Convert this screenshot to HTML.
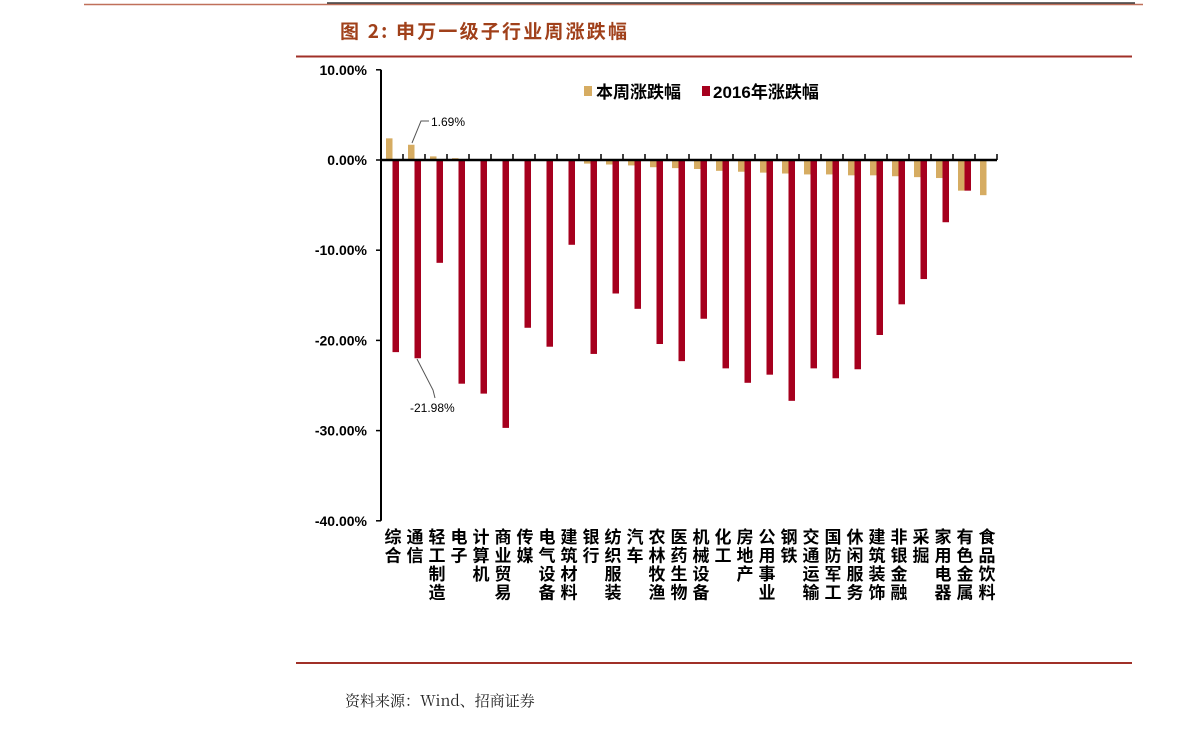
<!DOCTYPE html>
<html><head><meta charset="utf-8"><style>
body{margin:0;background:#fff;width:1191px;height:731px;overflow:hidden}
svg{display:block}
</style></head><body>
<svg width="1191" height="731" xmlns="http://www.w3.org/2000/svg" font-family="Liberation Sans, Noto Sans CJK SC, sans-serif">
<line x1="84" y1="4.5" x2="1143" y2="4.5" stroke="#c0705a" stroke-width="1.5"/>
<line x1="327" y1="3" x2="1135" y2="3" stroke="#111" stroke-width="1.2"/>
<text x="340" y="38" font-size="19" font-weight="bold" fill="#a0401a" letter-spacing="2.2" font-family="Noto Sans CJK SC, sans-serif">图 2:  申万一级子行业周涨跌幅</text>
<line x1="296" y1="56.5" x2="1132" y2="56.5" stroke="#a03028" stroke-width="2"/>
<line x1="296" y1="663" x2="1132" y2="663" stroke="#a03028" stroke-width="2"/>
<text x="345" y="706" font-size="15" fill="#222" font-family="Noto Serif CJK SC, serif">资料来源：Wind、招商证券</text>
<g id="chart"></g>
</svg>
<script>
const g=document.getElementById('chart');const ns='http://www.w3.org/2000/svg';
function el(t,a,txt){const e=document.createElementNS(ns,t);for(const k in a)e.setAttribute(k,a[k]);if(txt!==undefined)e.textContent=txt;g.appendChild(e);return e;}
const y0=160,k=9.02,x0=381,w=22;
const names=["综合","通信","轻工制造","电子","计算机","商业贸易","传媒","电气设备","建筑材料","银行","纺织服装","汽车","农林牧渔","医药生物","机械设备","化工","房地产","公用事业","钢铁","交通运输","国防军工","休闲服务","建筑装饰","非银金融","采掘","家用电器","有色金属","食品饮料"];
const gold=[2.4,1.69,0.4,0.2,0.05,0,0,0,-0.1,-0.4,-0.5,-0.6,-0.8,-0.9,-1.0,-1.2,-1.3,-1.4,-1.5,-1.6,-1.6,-1.7,-1.7,-1.8,-1.9,-2.0,-3.4,-3.9];
const red=[-21.3,-21.98,-11.4,-24.8,-25.9,-29.7,-18.6,-20.7,-9.4,-21.5,-14.8,-16.5,-20.4,-22.3,-17.6,-23.1,-24.7,-23.8,-26.7,-23.1,-24.2,-23.2,-19.4,-16.0,-13.2,-6.9,-3.4,0];
for(let v=10;v>=-40;v-=10){const y=y0-v*k;el('line',{x1:376,y1:y,x2:381,y2:y,stroke:'#000','stroke-width':1.5});el('text',{x:367,y:y+5,'font-size':14,'font-weight':'bold','text-anchor':'end'},v.toFixed(2)+'%');}
el('line',{x1:381,y1:y0-10*k,x2:381,y2:y0+40*k,stroke:'#000','stroke-width':2});
for(let i=0;i<28;i++){const cx=x0+w*i;
const gv=gold[i],rv=red[i];
if(gv!==0){el('rect',{x:cx+5,y:gv>0?y0-gv*k:y0,width:6.5,height:Math.abs(gv)*k,fill:'#d6ac62'});}
if(rv!==0){el('rect',{x:cx+11.5,y:y0,width:6.5,height:-rv*k,fill:'#a6001e'});}
const ch=names[i].split('');ch.forEach((c,j)=>el('text',{x:cx+w/2+1,y:543+j*18.5,'font-size':17,'font-weight':'bold','text-anchor':'middle'},c));
}
for(let i=0;i<=28;i++){const x=x0+w*i;el('line',{x1:x,y1:y0,x2:x,y2:y0-6,stroke:'#000','stroke-width':1.5});}
el('line',{x1:381,y1:y0,x2:997,y2:y0,stroke:'#000','stroke-width':2.5});
el('polyline',{points:'412,143 421,121 429,121',fill:'none',stroke:'#555','stroke-width':1});
el('text',{x:431,y:126,'font-size':12},'1.69%');
el('polyline',{points:'417,359 433,390 435,398',fill:'none',stroke:'#555','stroke-width':1});
el('text',{x:410,y:412,'font-size':12},'-21.98%');
el('rect',{x:584,y:86,width:8,height:10,fill:'#d6ac62'});
el('text',{x:596,y:98,'font-size':17,'font-weight':'bold'},'本周涨跌幅');
el('rect',{x:702,y:86,width:8,height:10,fill:'#a6001e'});
el('text',{x:713,y:98,'font-size':17,'font-weight':'bold'},'2016年涨跌幅');
</script>
</body></html>
